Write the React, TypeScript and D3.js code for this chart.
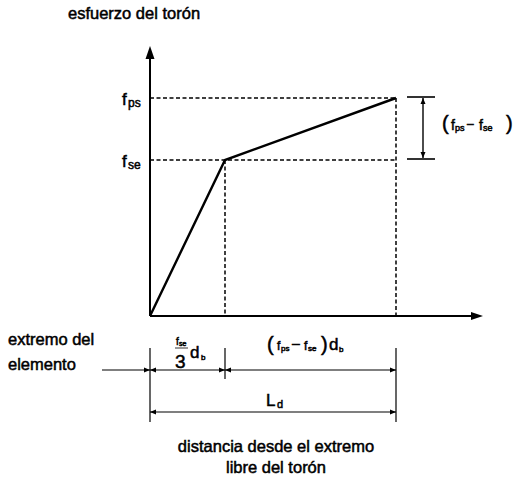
import React from "react";
import * as d3 from "d3";

// Schematic values (abstract units)
const distances = [0, 75, 246]; // origin, transfer length, development length Ld
const stresses = [0, 156, 218]; // 0, fse, fps
const xAxisMax = 333;
const yAxisMax = 270;
const titleY = "esfuerzo del torón";
const titleX = ["distancia desde el extremo", "libre del torón"];
const leftLabel = ["extremo del", "elemento"];

const W = 514;
const H = 479;
const FONT = "'Liberation Sans', Arial, Helvetica, sans-serif";

const x = d3.scaleLinear().domain([0, xAxisMax]).range([150, 483]);
const y = d3.scaleLinear().domain([0, yAxisMax]).range([316, 46]);

const lineGen = d3
  .line<number>()
  .x((_, i) => x(distances[i]))
  .y((d) => y(d));

function Arrow({ tipX, tipY, dir, len = 6, half = 2.5 }: { tipX: number; tipY: number; dir: "l" | "r" | "u" | "d"; len?: number; half?: number }) {
  let pts: [number, number][] = [];
  if (dir === "r") pts = [[tipX, tipY], [tipX - len, tipY - half], [tipX - len, tipY + half]];
  if (dir === "l") pts = [[tipX, tipY], [tipX + len, tipY - half], [tipX + len, tipY + half]];
  if (dir === "u") pts = [[tipX, tipY], [tipX - half, tipY + len], [tipX + half, tipY + len]];
  if (dir === "d") pts = [[tipX, tipY], [tipX - half, tipY - len], [tipX + half, tipY - len]];
  return <polygon points={pts.map((p) => p.join(",")).join(" ")} fill="#000" />;
}

export default function App() {
  const x0 = x(distances[0]);
  const xt = x(distances[1]);
  const xd = x(distances[2]);
  const y0 = y(0);
  const yse = y(stresses[1]);
  const yps = y(stresses[2]);
  const dash = "4,2.5";
  const row1 = 370;
  const row2 = 412;
  const txt = { fontFamily: FONT, fill: "#000", stroke: "#000", strokeWidth: 0.5 } as const;

  return (
    <svg width={W} height={H} style={{ position: "absolute", left: 0, top: 0, background: "#fff" }}>
      {/* title */}
      <text x={68} y={19} fontSize={16.5} {...txt}>{titleY}</text>

      {/* axes */}
      <line x1={x0} y1={y0} x2={x0} y2={y(yAxisMax) + 8} stroke="#000" strokeWidth={2} />
      <Arrow tipX={x0} tipY={y(yAxisMax)} dir="u" len={13} half={4.5} />
      <line x1={x0} y1={y0} x2={x(xAxisMax) - 8} y2={y0} stroke="#000" strokeWidth={2} />
      <Arrow tipX={x(xAxisMax)} tipY={y0} dir="r" len={12} half={4} />

      {/* dashed guides */}
      <line x1={x0} y1={yps} x2={xd} y2={yps} stroke="#000" strokeWidth={1.5} strokeDasharray={dash} />
      <line x1={x0} y1={yse} x2={xd} y2={yse} stroke="#000" strokeWidth={1.5} strokeDasharray={dash} />
      <line x1={xt} y1={yse} x2={xt} y2={y0} stroke="#000" strokeWidth={1.5} strokeDasharray={dash} />
      <line x1={xd} y1={yps} x2={xd} y2={y0} stroke="#000" strokeWidth={1.5} strokeDasharray={dash} />

      {/* stress curve */}
      <path d={lineGen(stresses) || ""} fill="none" stroke="#000" strokeWidth={2.4} strokeLinejoin="miter" />

      {/* y labels */}
      <text x={122} y={105} fontSize={17} {...txt}>f</text>
      <text x={128} y={107} fontSize={12} {...txt}>ps</text>
      <text x={122} y={167} fontSize={17} {...txt}>f</text>
      <text x={128} y={169} fontSize={12} {...txt}>se</text>

      {/* right bracket */}
      <line x1={407} y1={yps - 1} x2={435} y2={yps - 1} stroke="#000" strokeWidth={1.6} />
      <line x1={407} y1={yse - 1} x2={435} y2={yse - 1} stroke="#000" strokeWidth={1.6} />
      <line x1={423} y1={yps} x2={423} y2={yse - 2} stroke="#000" strokeWidth={1.4} />
      <Arrow tipX={423} tipY={yps} dir="u" len={6} half={2.5} />
      <Arrow tipX={423} tipY={yse - 2} dir="d" len={6} half={2.5} />
      <text x={442} y={130} fontSize={20} {...txt}>(</text>
      <text x={451} y={130} fontSize={14} {...txt}>f</text>
      <text x={455} y={131} fontSize={9} {...txt}>ps</text>
      <text x={467} y={128} fontSize={12} {...txt}>–</text>
      <text x={479} y={130} fontSize={14} {...txt}>f</text>
      <text x={483} y={131} fontSize={9} {...txt}>se</text>
      <text x={506} y={130} fontSize={20} {...txt}>)</text>

      {/* left label */}
      <text x={8} y={345} fontSize={16.5} {...txt}>{leftLabel[0]}</text>
      <text x={8} y={370} fontSize={16.5} {...txt}>{leftLabel[1]}</text>

      {/* dimension extension lines */}
      <line x1={x0} y1={348} x2={x0} y2={422} stroke="#000" strokeWidth={1.2} />
      <line x1={xt} y1={348} x2={xt} y2={379} stroke="#000" strokeWidth={1.2} />
      <line x1={xd} y1={348} x2={xd} y2={422} stroke="#000" strokeWidth={1.2} />

      {/* row 1 */}
      <line x1={102} y1={row1} x2={xd} y2={row1} stroke="#000" strokeWidth={1.2} />
      <Arrow tipX={x0} tipY={row1} dir="r" />
      <Arrow tipX={x0} tipY={row1} dir="l" />
      <Arrow tipX={xt} tipY={row1} dir="r" />
      <Arrow tipX={xt} tipY={row1} dir="l" />
      <Arrow tipX={xd} tipY={row1} dir="r" />

      {/* fse/3 db */}
      <text x={176} y={345} fontSize={10} {...txt}>f</text>
      <text x={179} y={346} fontSize={7} {...txt}>se</text>
      <line x1={175} y1={348} x2={188} y2={348} stroke="#000" strokeWidth={0.8} />
      <text x={175} y={368} fontSize={19} {...txt}>3</text>
      <text x={190} y={358} fontSize={17} {...txt}>d</text>
      <text x={201} y={360} fontSize={8} {...txt}>b</text>

      {/* (fps - fse) db */}
      <text x={267} y={351} fontSize={20} {...txt}>(</text>
      <text x={277} y={350} fontSize={12} {...txt}>f</text>
      <text x={281} y={351} fontSize={8} {...txt}>ps</text>
      <text x={292} y={348} fontSize={14} {...txt}>–</text>
      <text x={304} y={350} fontSize={12} {...txt}>f</text>
      <text x={308} y={351} fontSize={8} {...txt}>se</text>
      <text x={321} y={351} fontSize={20} {...txt}>)</text>
      <text x={329} y={350} fontSize={17} {...txt}>d</text>
      <text x={339} y={352} fontSize={8} {...txt}>b</text>

      {/* row 2 */}
      <line x1={x0} y1={row2} x2={xd} y2={row2} stroke="#000" strokeWidth={1.2} />
      <Arrow tipX={x0} tipY={row2} dir="l" />
      <Arrow tipX={xd} tipY={row2} dir="r" />
      <text x={266} y={406} fontSize={17} {...txt}>L</text>
      <text x={277} y={408} fontSize={11} {...txt}>d</text>

      {/* x axis title */}
      <text x={276} y={452} fontSize={16.5} textAnchor="middle" {...txt}>{titleX[0]}</text>
      <text x={276} y={473} fontSize={16.5} textAnchor="middle" {...txt}>{titleX[1]}</text>
    </svg>
  );
}
